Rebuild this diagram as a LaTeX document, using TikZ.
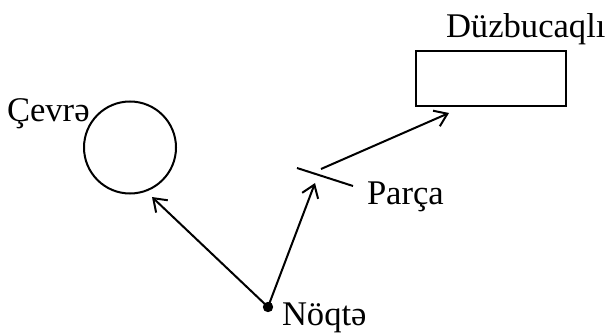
\documentclass[tikz,border=0pt]{standalone}
\usepackage{fontspec}
\setmainfont{Liberation Serif}
\usetikzlibrary{arrows.meta}
\begin{document}
\begin{tikzpicture}[x=0.5pt,y=-0.5pt,
  line width=1pt,
  conn/.style={-{Straight Barb[length=6pt,width=8.5pt,line width=1pt]}},
  lbl/.style={anchor=base west,inner sep=0pt,font=\fontsize{17.3}{20}\selectfont},
  figbox/.style={draw,line width=1pt,inner sep=0pt}]
\useasboundingbox (0,0) rectangle (609,336);
% shapes
\node[figbox,circle,minimum size=46pt] (circ) at (130,147.5) {};
\node[figbox,rectangle,minimum width=75pt,minimum height=27.5pt] (rect) at (491,78.5) {};
\coordinate (sega) at (297,168);
\coordinate (segb) at (353,186);
\draw (sega) -- (segb);
\node[circle,fill,inner sep=0pt,minimum size=5.2pt] (pt) at (268,307) {};
% arrow ends
\coordinate (circtip) at (152,197);
\coordinate (segtip) at (315,183);
\coordinate (segstart) at (321,169);
\coordinate (recttip) at (449,113);
\draw[conn] (pt.center) -- (circtip);
\draw[conn] (pt.center) -- (segtip);
\draw[conn] (segstart) -- (recttip);
% labels
\node[lbl] (lc) at (6,122) {Çevrə};
\node[lbl] (lp) at (366,205) {Parça};
\node[lbl] (ln) at (281,325) {Nöqtə};
\node[lbl] (lr) at (445,38) {Düzbucaqlı};
\end{tikzpicture}
\end{document}
